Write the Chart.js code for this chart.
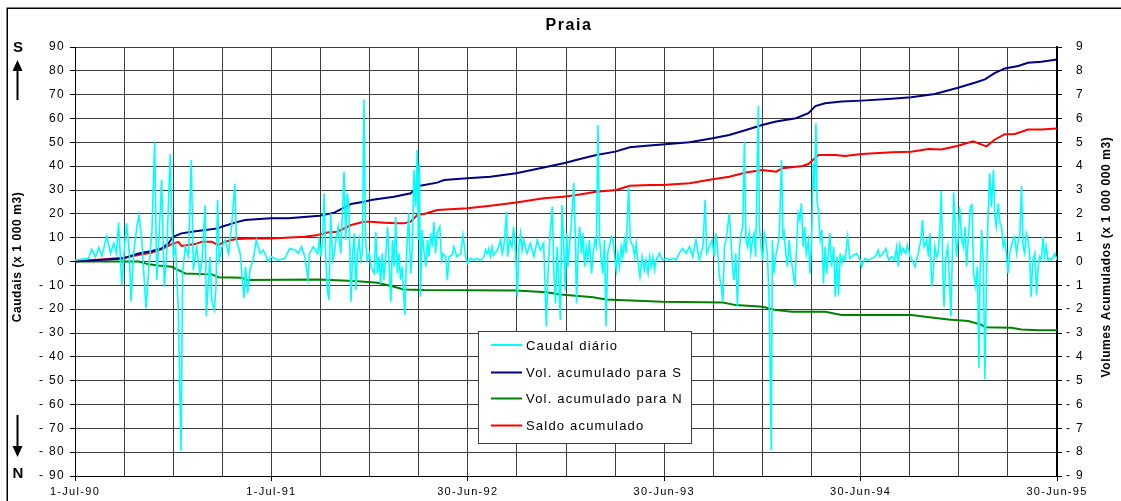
<!DOCTYPE html>
<html>
<head>
<meta charset="utf-8">
<script src="https://cdn.jsdelivr.net/npm/chart.js@4.4.1/dist/chart.umd.min.js"></script>
<style>
  html, body { margin: 0; padding: 0; background: #fff; }
  canvas { display: block; }
</style>
</head>
<body>
<canvas id="chart" width="1121" height="501"></canvas>
<script>
const FONT = "'Liberation Sans', Arial, Helvetica, sans-serif";

const chartTitle = 'Praia';
const leftAxisTitle = 'Caudais (x 1 000 m3)';
const rightAxisTitle = 'Volumes Acumulados (x 1 000 000 m3)';
const dateLabels = ['1-Jul-90', '1-Jul-91', '30-Jun-92', '30-Jun-93', '30-Jun-94', '30-Jun-95'];
const seriesNames = ['Caudal diário', 'Vol. acumulado para S', 'Vol. acumulado para N', 'Saldo acumulado'];
const seriesColors = ['#00FFFF', '#000080', '#008000', '#FF0000'];
const totalDays = 1825; // 1-Jul-90 .. 30-Jun-95

// Daily flow [day since 1-Jul-90, 1000 m3], one array per hydrological year
const flow1990 = [[0,0.6],[13,0.9],[25,1.3],[31,5.1],[38,2.0],[44,5.9],[50,2.3],[59,10.7],[66,3.4],[72,7.6],[77,3.4],[81,16.3],[87,-9.9],[92,6.2],[96,16.0],[101,3.4],[104,-16.8],[109,3.4],[115,14.6],[119,19.5],[124,9.0],[128,-5.0],[132,-19.6],[137,-3.6],[143,12.5],[148,50.0],[152,-7.8],[156,9.0],[161,34.2],[166,-10.6],[171,6.2],[174,27.2],[177,45.1],[180,16.0],[183,2.0],[187,6.2],[192,-20.3],[197,-79.4],[200,-5.0],[205,6.2],[211,2.0],[216,42.6],[220,-3.6],[226,6.2],[232,-5.0],[236,0.6],[242,23.7],[244,-23.1],[248,-7.8],[251,2.0],[254,-16.2],[259,-20.3],[262,-10.6],[265,25.8],[268,0.6],[273,6.2],[279,9.0],[285,3.4],[291,14.6],[297,32.5],[300,9.0],[307,3.4],[314,-15.4],[317,-2.2],[321,-13.4],[325,-3.6],[331,0.6],[337,9.0],[344,3.4],[350,4.8],[359,0.0]];
const flow1991 = [[365,2.0],[378,0.6],[390,1.3],[399,5.5],[409,4.8],[415,3.4],[421,6.2],[427,2.0],[433,-7.1],[436,3.4],[443,6.2],[451,3.4],[454,9.0],[457,2.0],[460,9.0],[463,28.6],[466,2.0],[469,-12.0],[472,-16.2],[475,20.2],[479,0.6],[482,3.4],[485,9.0],[489,14.6],[494,3.4],[500,37.6],[503,9.0],[506,28.6],[509,23.0],[513,-16.9],[516,3.4],[519,11.8],[522,-12.0],[525,3.4],[528,9.0],[531,0.6],[534,3.4],[537,68.0],[540,9.0],[543,0.6],[547,3.4],[550,-2.2],[556,-5.0],[559,12.5],[562,-5.0],[565,2.0],[568,-9.2],[571,3.4],[574,-7.8],[577,0.6],[581,14.6],[584,-2.2],[587,-16.9],[590,9.0],[593,-2.2],[596,18.8],[599,-5.0],[602,3.4],[605,-7.8],[608,-2.2],[613,-22.4],[616,2.0],[620,20.2],[624,-5.0],[627,6.2],[630,38.4],[633,23.0],[636,46.8],[638,9.0],[640,41.2],[642,-14.8],[645,13.2],[649,3.4],[652,-2.2],[655,9.0],[658,2.0],[661,11.8],[664,6.2],[667,16.7],[670,3.4],[673,11.8],[678,14.6],[681,0.6],[684,3.4],[689,2.0],[692,-7.8],[695,2.0],[701,2.7],[704,6.2],[710,2.0],[717,3.4],[721,11.1],[726,2.0]];
const flow1992 = [[730,-0.8],[735,1.3],[741,0.6],[747,1.3],[754,0.3],[760,2.0],[763,4.8],[766,3.4],[769,5.5],[772,2.0],[775,6.2],[778,2.7],[785,4.8],[791,9.0],[794,3.4],[797,6.2],[802,20.9],[804,2.0],[808,9.0],[812,6.2],[815,14.6],[819,3.4],[822,-14.8],[825,6.2],[828,11.8],[831,4.8],[834,9.0],[840,3.4],[846,7.6],[853,2.0],[859,9.0],[865,4.8],[871,7.6],[876,-27.3],[879,-5.0],[883,11.8],[887,23.0],[890,-5.0],[893,-17.6],[896,6.2],[899,-7.8],[902,-24.5],[905,23.7],[908,9.0],[911,-12.0],[914,11.8],[916,-2.2],[919,6.2],[922,14.6],[927,32.9],[930,9.0],[932,-17.6],[935,6.2],[938,14.6],[941,3.4],[944,11.8],[947,-2.2],[950,6.2],[953,0.6],[956,9.0],[960,-5.0],[963,3.4],[966,9.0],[969,6.2],[972,57.3],[975,9.0],[978,0.6],[981,-5.0],[984,9.0],[987,-27.3],[990,3.4],[993,6.2],[997,10.4],[1000,9.0],[1003,2.0],[1006,-3.6],[1009,3.4],[1012,-2.2],[1015,6.2],[1018,2.0],[1021,9.0],[1024,3.4],[1029,31.4],[1032,9.0],[1037,6.2],[1040,2.0],[1043,7.6],[1046,0.6],[1050,-6.4],[1054,2.0],[1058,-3.6],[1061,0.6],[1065,-5.0],[1068,2.0],[1071,-2.2],[1074,2.0],[1077,-3.6],[1080,0.6],[1086,3.4],[1092,0.6]];
const flow1993 = [[1099,1.3],[1105,0.6],[1111,1.3],[1117,0.6],[1123,3.4],[1129,5.5],[1136,3.4],[1142,6.2],[1148,2.0],[1154,9.0],[1160,0.6],[1167,6.2],[1171,25.8],[1174,3.4],[1179,6.2],[1184,9.0],[1188,2.0],[1191,11.8],[1194,6.2],[1197,-5.0],[1201,-10.6],[1204,-16.9],[1207,6.2],[1210,9.0],[1213,14.6],[1216,20.2],[1219,9.0],[1222,-2.2],[1225,-7.8],[1228,3.4],[1231,-19.0],[1235,6.2],[1238,11.8],[1241,14.6],[1244,50.3],[1247,9.0],[1250,6.2],[1253,11.8],[1256,3.4],[1259,9.0],[1262,11.8],[1265,2.0],[1270,65.2],[1272,14.6],[1275,6.2],[1278,0.6],[1281,11.8],[1284,9.0],[1287,2.0],[1290,-16.2],[1294,-79.1],[1296,9.0],[1299,-5.0],[1303,3.4],[1306,6.2],[1309,11.8],[1313,42.6],[1316,9.0],[1318,11.8],[1321,3.4],[1324,-2.2],[1327,9.0],[1330,2.0],[1333,-2.2],[1338,-10.6],[1341,6.2],[1344,20.2],[1347,17.4],[1350,24.4],[1353,6.2],[1356,14.6],[1359,3.4],[1363,9.0],[1366,-5.0],[1369,9.0],[1372,41.2],[1374,30.0],[1377,58.0],[1379,25.8],[1382,20.2],[1385,9.0],[1388,13.2],[1391,-9.2],[1394,6.2],[1397,-5.0],[1400,3.4],[1403,11.8],[1406,-2.2],[1410,6.2],[1413,-14.8],[1416,2.0],[1419,-14.1],[1422,3.4],[1425,-0.8],[1428,2.0],[1431,0.6],[1436,10.4],[1440,1.3],[1447,2.7],[1453,3.4],[1459,0.6]];
const flow1994 = [[1462,-2.2],[1468,1.3],[1474,0.6],[1481,1.3],[1487,2.0],[1493,4.8],[1496,2.0],[1502,3.4],[1507,5.5],[1512,0.6],[1518,2.0],[1523,0.6],[1527,6.2],[1530,-2.2],[1533,6.9],[1536,3.4],[1539,5.5],[1544,3.4],[1547,6.9],[1552,2.0],[1556,0.6],[1561,-2.2],[1564,0.6],[1567,3.4],[1572,9.0],[1575,17.4],[1578,6.2],[1583,9.0],[1586,2.0],[1589,11.8],[1592,-10.6],[1595,-5.0],[1598,6.2],[1601,2.0],[1604,3.4],[1607,11.8],[1610,29.7],[1613,-5.0],[1615,-19.0],[1618,0.6],[1622,6.2],[1625,-7.8],[1628,-23.1],[1631,9.0],[1633,28.9],[1636,14.6],[1638,2.0],[1641,9.0],[1644,23.0],[1648,9.0],[1651,6.2],[1654,14.6],[1657,-2.2],[1660,9.0],[1664,23.0],[1667,23.7],[1670,-5.0],[1674,-10.6],[1677,-2.2],[1680,-44.8],[1682,-5.0],[1685,13.2],[1688,0.6],[1691,-49.4],[1694,-5.0],[1697,20.2],[1700,37.0],[1703,23.0],[1707,38.4],[1709,20.2],[1712,14.6],[1716,24.4],[1719,16.0],[1722,14.6],[1725,6.2],[1728,9.0],[1731,3.4],[1734,-5.0],[1737,3.4],[1740,6.2],[1743,9.0],[1746,10.4],[1750,3.4],[1753,9.0],[1756,11.8],[1759,31.7],[1762,6.2],[1765,3.4],[1768,11.8],[1771,9.0],[1774,3.4],[1777,-14.8],[1780,0.6],[1784,3.4],[1787,-14.1],[1790,-2.2],[1793,2.0],[1796,0.6],[1799,10.4],[1802,2.0],[1805,6.2],[1808,0.6],[1811,1.3],[1814,0.6],[1818,2.0],[1821,3.4],[1825,0.6]];

// Accumulated volumes [day, 1 000 000 m3]
const cumSouth = [[0,0],[90,0.13],[118,0.34],[143,0.44],[161,0.55],[174,0.76],[182,1.04],[198,1.18],[217,1.25],[242,1.32],[266,1.39],[273,1.46],[297,1.63],[316,1.74],[364,1.81],[396,1.81],[455,1.92],[482,2.05],[513,2.41],[537,2.51],[550,2.58],[593,2.72],[624,2.86],[633,3.07],[639,3.17],[673,3.31],[686,3.42],[729,3.49],[772,3.56],[820,3.70],[871,3.94],[910,4.13],[944,4.33],[969,4.47],[1004,4.61],[1031,4.79],[1062,4.86],[1097,4.92],[1142,5.00],[1185,5.17],[1216,5.31],[1247,5.52],[1277,5.73],[1303,5.87],[1340,6.01],[1363,6.22],[1376,6.52],[1394,6.64],[1425,6.71],[1462,6.75],[1518,6.83],[1554,6.89],[1598,7.03],[1641,7.29],[1672,7.50],[1691,7.64],[1709,7.90],[1728,8.10],[1753,8.20],[1771,8.34],[1796,8.38],[1825,8.48]];
const cumNorth = [[0,0],[118,0],[137,-0.12],[155,-0.17],[180,-0.22],[192,-0.36],[205,-0.50],[254,-0.54],[267,-0.66],[310,-0.68],[322,-0.78],[451,-0.76],[519,-0.82],[562,-0.89],[593,-1.06],[611,-1.17],[649,-1.20],[820,-1.22],[877,-1.29],[902,-1.38],[914,-1.41],[963,-1.50],[987,-1.59],[1092,-1.69],[1204,-1.72],[1228,-1.83],[1278,-1.90],[1303,-2.04],[1333,-2.11],[1394,-2.11],[1425,-2.24],[1555,-2.24],[1580,-2.32],[1623,-2.43],[1660,-2.50],[1685,-2.66],[1691,-2.76],[1740,-2.78],[1759,-2.85],[1790,-2.88],[1825,-2.88]];
const cumBalance = [[0,0],[90,0.16],[118,0.27],[143,0.38],[161,0.51],[180,0.73],[192,0.82],[198,0.65],[223,0.73],[236,0.83],[254,0.83],[266,0.69],[279,0.83],[297,0.93],[322,0.97],[364,0.97],[427,1.04],[451,1.11],[469,1.22],[488,1.25],[513,1.53],[537,1.67],[550,1.67],[574,1.63],[599,1.60],[611,1.60],[624,1.67],[636,1.95],[649,1.99],[673,2.16],[729,2.23],[772,2.34],[820,2.48],[871,2.65],[907,2.72],[932,2.79],[969,2.93],[1006,3.00],[1031,3.18],[1068,3.21],[1092,3.21],[1142,3.28],[1185,3.45],[1216,3.56],[1247,3.73],[1277,3.84],[1303,3.77],[1315,3.91],[1352,4.01],[1363,4.09],[1382,4.47],[1413,4.47],[1431,4.43],[1462,4.51],[1518,4.58],[1554,4.61],[1586,4.72],[1610,4.70],[1641,4.86],[1669,5.04],[1694,4.83],[1709,5.11],[1728,5.34],[1747,5.35],[1771,5.54],[1796,5.54],[1825,5.58]];

const toPoints = pairs => pairs.map(([d, v]) => ({ x: d, y: v }));
const dailyFlow = [].concat(flow1990, flow1991, flow1992, flow1993, flow1994);

const GRID = '#3c3c3c';
const dateFont = { family: FONT, size: 11 };
const valueFont = { family: FONT, size: 12 };
const signedLabel = v => (v < 0 ? '- ' + (-v) : String(v));

// Frame, titles, S/N arrows and the boxed legend
const decorations = {
  id: 'decorations',
  beforeDraw(chart) {
    chart.ctx.letterSpacing = '1.3px';
  },
  afterDraw(chart) {
    const ctx = chart.ctx;
    const area = chart.chartArea;
    ctx.save();

    // outer frame
    ctx.strokeStyle = '#000';
    ctx.lineWidth = 1.5;
    ctx.strokeRect(7.25, 8.25, 1140, 520);

    ctx.fillStyle = '#000';
    ctx.textBaseline = 'middle';

    // chart title
    ctx.font = `bold 16px ${FONT}`;
    ctx.letterSpacing = '1.6px';
    ctx.textAlign = 'center';
    ctx.fillText(chartTitle, (area.left + area.right) / 2 + 3, 26);

    // axis titles, both reading bottom to top
    ctx.font = `bold 12px ${FONT}`;
    ctx.letterSpacing = '0.6px';
    ctx.save();
    ctx.translate(18, 257);
    ctx.rotate(-Math.PI / 2);
    ctx.fillText(leftAxisTitle, 0, 0);
    ctx.restore();
    ctx.save();
    ctx.translate(1107, 257);
    ctx.rotate(-Math.PI / 2);
    ctx.fillText(rightAxisTitle, 0, 0);
    ctx.restore();

    // direction markers
    ctx.font = `bold 15px ${FONT}`;
    ctx.letterSpacing = '0px';
    ctx.fillText('S', 18, 48);
    ctx.fillText('N', 18, 474);
    ctx.lineWidth = 2;
    ctx.beginPath();
    ctx.moveTo(17.5, 100); ctx.lineTo(17.5, 68);
    ctx.moveTo(17.5, 415); ctx.lineTo(17.5, 448);
    ctx.stroke();
    ctx.beginPath();
    ctx.moveTo(17.5, 60); ctx.lineTo(12.5, 71); ctx.lineTo(22.5, 71); ctx.closePath();
    ctx.moveTo(17.5, 457); ctx.lineTo(12.5, 446); ctx.lineTo(22.5, 446); ctx.closePath();
    ctx.fill();

    // legend box
    const box = { x: 478.5, y: 331.5, w: 213, h: 112 };
    ctx.fillStyle = '#fff';
    ctx.fillRect(box.x, box.y, box.w, box.h);
    ctx.strokeStyle = '#404040';
    ctx.lineWidth = 1;
    ctx.strokeRect(box.x, box.y, box.w, box.h);
    const rows = [345, 372.5, 398.5, 425.5];
    ctx.font = `13px ${FONT}`;
    ctx.letterSpacing = '1.2px';
    ctx.textAlign = 'left';
    chart.data.datasets.forEach((ds, i) => {
      ctx.strokeStyle = ds.borderColor;
      ctx.lineWidth = 2;
      ctx.beginPath();
      ctx.moveTo(491, rows[i]);
      ctx.lineTo(522, rows[i]);
      ctx.stroke();
      ctx.fillStyle = '#000';
      ctx.fillText(ds.label, 526, rows[i] + 1);
    });

    ctx.restore();
  }
};

new Chart(document.getElementById('chart'), {
  type: 'line',
  data: {
    datasets: [
      { label: seriesNames[0], data: toPoints(dailyFlow), yAxisID: 'y', borderColor: seriesColors[0], borderWidth: 1.6 },
      { label: seriesNames[1], data: toPoints(cumSouth), yAxisID: 'y1', borderColor: seriesColors[1], borderWidth: 2 },
      { label: seriesNames[2], data: toPoints(cumNorth), yAxisID: 'y1', borderColor: seriesColors[2], borderWidth: 2 },
      { label: seriesNames[3], data: toPoints(cumBalance), yAxisID: 'y1', borderColor: seriesColors[3], borderWidth: 2 }
    ]
  },
  options: {
    responsive: false,
    devicePixelRatio: 1,
    animation: false,
    events: [],
    elements: { point: { radius: 0 }, line: { tension: 0, fill: false } },
    layout: { padding: { top: 47, right: 37, left: 0, bottom: 0 } },
    plugins: { legend: { display: false }, title: { display: false }, tooltip: { enabled: false } },
    scales: {
      x: {
        type: 'linear',
        min: 0,
        max: totalDays,
        afterBuildTicks: s => { s.ticks = Array.from({ length: 21 }, (_, k) => ({ value: k * totalDays / 20 })); },
        afterFit: s => { s.height = 25; },
        grid: {
          color: GRID,
          lineWidth: 1,
          tickLength: 5,
          tickColor: c => (c.index % 4 === 0 ? '#000' : 'rgba(0,0,0,0)')
        },
        border: { color: '#000', width: 1 },
        ticks: {
          autoSkip: false,
          maxRotation: 0,
          minRotation: 0,
          padding: 4,
          color: '#000',
          font: dateFont,
          callback: (v, i) => (i % 4 === 0 ? dateLabels[i / 4] : '')
        }
      },
      y: {
        position: 'left',
        min: -90,
        max: 90,
        afterFit: s => { s.width = 75; },
        grid: { color: GRID, lineWidth: 1, tickLength: 5, tickColor: '#000' },
        border: { color: '#000', width: 1 },
        ticks: {
          stepSize: 10,
          padding: 5,
          color: '#000',
          font: valueFont,
          callback: signedLabel
        }
      },
      y1: {
        position: 'right',
        min: -9,
        max: 9,
        afterFit: s => { s.width = 27; },
        grid: { drawOnChartArea: false, tickLength: 5, tickColor: '#000' },
        border: { color: '#000', width: 2 },
        ticks: {
          stepSize: 1,
          crossAlign: 'far',
          color: '#000',
          font: valueFont,
          callback: signedLabel
        }
      }
    }
  },
  plugins: [decorations]
});
</script>
</body>
</html>
